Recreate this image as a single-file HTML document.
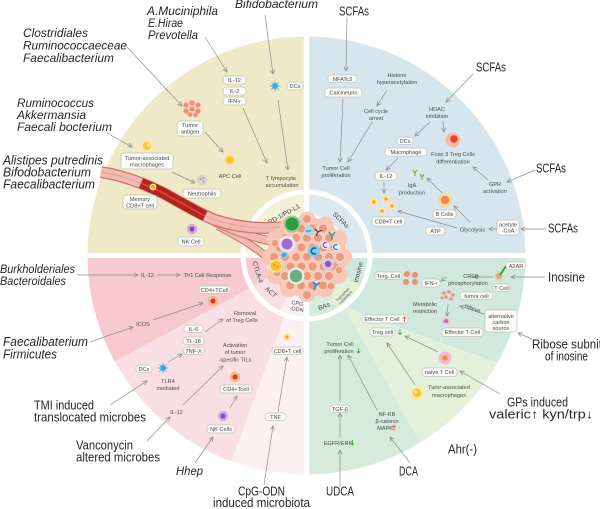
<!DOCTYPE html>
<html><head><meta charset="utf-8"><style>
html,body{margin:0;padding:0;background:#fff;}
svg{display:block;}
text{font-family:"Liberation Sans","DejaVu Sans",sans-serif;}
.big{font-size:12px;fill:#262626;}
.it{font-style:italic;}
.s{font-size:5.6px;fill:#4a4a4a;text-anchor:middle;}
.bd{font-size:6.5px;fill:#454545;text-anchor:middle;}
.b{fill:#fbfbf7;stroke:#a9a9a9;stroke-width:0.5;}
.ar{stroke:#8c8c8c;stroke-width:0.7;fill:none;marker-end:url(#m);}
.ga{stroke:#4fa544;stroke-width:0.9;fill:none;}
.ra{stroke:#e2553a;stroke-width:0.9;fill:none;}
</style></head><body>
<svg width="600" height="509" viewBox="0 0 600 509" xmlns="http://www.w3.org/2000/svg">
<defs>
<marker id="m" viewBox="0 0 6 6" refX="5.5" refY="3" markerWidth="5" markerHeight="5" markerUnits="userSpaceOnUse" orient="auto"><path d="M0.5,0.5 L5.5,3 L0.5,5.5" fill="none" stroke="#8c8c8c" stroke-width="0.9"/></marker>
<clipPath id="co"><circle cx="306.5" cy="255.5" r="219"/></clipPath>
<clipPath id="cb"><circle cx="306.5" cy="255.5" r="61"/></clipPath>
<g id="star"><polygon points="6,0 2.77,1.15 4.24,4.24 1.15,2.77 0,6 -1.15,2.77 -4.24,4.24 -2.77,1.15 -6,0 -2.77,-1.15 -4.24,-4.24 -1.15,-2.77 0,-6 1.15,-2.77 4.24,-4.24 2.77,-1.15" fill="#79c8ea"/><circle r="2.6" fill="#3ea6d8"/></g>
<g id="sun"><polygon points="7,0 3.7,1.5 5,5 1.5,3.7 0,7 -1.5,3.7 -5,5 -3.7,1.5 -7,0 -3.7,-1.5 -5,-5 -1.5,-3.7 0,-7 1.5,-3.7 5,-5 3.7,-1.5" fill="#fbe38c"/><circle r="4" fill="#f7c935"/></g>
<g id="orc"><circle r="5.2" fill="#f7b683"/><circle r="2.5" fill="#d8352a"/></g>
<g id="nkc"><circle r="5.2" fill="#cdaee0"/><circle r="2.6" fill="#8b4fb1"/></g>
<g id="ydot"><circle r="4" fill="#fbe6a6"/><circle r="1.6" fill="#f2a51e"/></g>
<g id="tcl"><circle r="9" fill="#fbd9cf"/><circle cx="-6" cy="-3" r="2.6" fill="#ee8f75"/><circle cx="0" cy="-5" r="2.6" fill="#ee8f75"/><circle cx="6" cy="-3" r="2.6" fill="#ee8f75"/><circle cx="-6" cy="3" r="2.6" fill="#ee8f75"/><circle cx="0" cy="1" r="2.6" fill="#ee8f75"/><circle cx="6" cy="3" r="2.6" fill="#ee8f75"/><circle cx="-2" cy="6.5" r="2.4" fill="#ee8f75"/><circle cx="3.5" cy="7" r="2.2" fill="#ee8f75"/></g>
</defs>

<!-- outer sectors -->
<g clip-path="url(#co)">
<rect x="0" y="0" width="306.5" height="255.5" fill="#f0e9c7"/>
<rect x="306.5" y="0" width="293.5" height="255.5" fill="#d7e6ee"/>
<polygon points="306.5,255.5 0,255.5 0,424 306,258" fill="#f6c9cf"/>
<polygon points="306,258 0,424 0,509 214,509" fill="#f9dfe3"/>
<polygon points="306,258 306.5,255.5 306.5,509 214,509" fill="#fdf0f2"/>
<polygon points="306.5,255.5 600,255.5 600,400 345,308" fill="#d0e8dd"/>
<polygon points="345,308 600,400 600,509 457,509" fill="#e4f1da"/>
<polygon points="306.5,255.5 345,308 457,509 306.5,509" fill="#d5ebdc"/>
</g>
<circle cx="306.5" cy="255.5" r="66" fill="#fff"/>
<!-- band -->
<g clip-path="url(#cb)">
<rect x="200" y="150" width="106.5" height="105.5" fill="#f5efd6"/>
<rect x="306.5" y="150" width="106.5" height="105.5" fill="#dbe8ef"/>
<polygon points="306.5,255.5 200,255.5 219.9,305.5" fill="#f6c9cf"/>
<polygon points="306.5,255.5 219.9,305.5 238.9,329.2 264.2,346.1" fill="#f9dfe3"/>
<polygon points="306.5,255.5 264.2,346.1 306.5,360" fill="#fdf0f2"/>
<polygon points="306.5,255.5 306.5,360 356.5,342.1" fill="#d5ebdc"/>
<polygon points="306.5,255.5 356.5,342.1 393.1,305.5" fill="#e4f1da"/>
<polygon points="306.5,255.5 393.1,305.5 410,255.5" fill="#d0e8dd"/>
</g>
<circle cx="306.5" cy="255.5" r="41" fill="#fff"/>
<!-- white cross -->
<rect x="303.8" y="30" width="5.4" height="460" fill="#fff"/>
<rect x="80" y="253" width="460" height="5" fill="#fff"/>

<!-- band labels -->
<g transform="translate(284,214) rotate(-29)"><text class="bd" y="2.3">PD-1/PD-L1</text></g>
<g transform="translate(341,220) rotate(44)"><text class="bd" y="2.3">SCFAs</text></g>
<g transform="translate(258,272) rotate(72)"><text class="bd" y="2.3">CTLA-4</text></g>
<g transform="translate(271,292) rotate(42)"><text class="bd" y="2.3">ACT</text></g>
<g transform="translate(297,306) rotate(8)"><text class="bd" style="font-size:5.5px" y="-1">CPG</text><text class="bd" style="font-size:5.5px" y="5">-ODN</text></g>
<g transform="translate(324,306) rotate(-19)"><text class="bd" y="2.3">BAs</text></g>
<g transform="translate(344,296) rotate(-45)"><text class="bd" style="font-size:3.6px" y="-0.8">Tryptophan</text><text class="bd" style="font-size:3.6px" y="3.4">catabolism</text></g>
<g transform="translate(358,272) rotate(-75)"><text class="bd" y="2.3">inosine</text></g>

<!-- vessel -->
<g fill="none" stroke-linecap="butt">
<path d="M218,226 C240,238 258,248 272,262" stroke="#c8736c" stroke-width="8"/>
<path d="M218,226 C240,238 258,248 272,262" stroke="#f2b9b2" stroke-width="6"/>
<path d="M215,222 C240,234 262,240 284,244" stroke="#c8736c" stroke-width="9"/>
<path d="M215,222 C240,234 262,240 284,244" stroke="#f2b9b2" stroke-width="7"/>
<path d="M101,172 C125,176 145,184 165,194 C185,205 200,214 215,220 C240,228 265,230 290,226" stroke="#c8736c" stroke-width="12"/>
<path d="M101,172 C125,176 145,184 165,194 C185,205 200,214 215,220 C240,228 265,230 290,226" stroke="#f2b9b2" stroke-width="9.5"/>
<path d="M101,172 C125,176 145,184 165,194 C185,205 200,214 215,220 C240,228 265,230 290,226" stroke="#e39b93" stroke-width="0.7"/>
<path d="M141,183 C150,187 158,190 165,194 C185,205 195,211 205,216" stroke="#b3241c" stroke-width="10.5"/>
<path d="M141,183 C150,187 158,190 165,194 C185,205 195,211 205,216" stroke="#cf4238" stroke-width="2"/>
</g>
<circle cx="153" cy="187" r="3.4" fill="#fff2c0"/><circle cx="153" cy="187" r="2.2" fill="#f3b321"/>

<!-- tumor -->
<g>
<circle cx="307" cy="257" r="40" fill="#f7c6b5"/>
<g fill="#f7c6b5">
<circle cx="343" cy="257" r="9"/><circle cx="338.2" cy="275" r="9"/><circle cx="325" cy="288.2" r="9"/><circle cx="307" cy="293" r="9"/><circle cx="289" cy="288.2" r="9"/><circle cx="275.8" cy="275" r="9"/><circle cx="271" cy="257" r="9"/><circle cx="275.8" cy="239" r="9"/><circle cx="289" cy="225.8" r="9"/><circle cx="307" cy="221" r="9"/><circle cx="325" cy="225.8" r="9"/><circle cx="338.2" cy="239" r="9"/>
</g>
<g fill="#ec9a7e" stroke="#f9d6c9" stroke-width="1">
<circle cx="307" cy="219" r="4.6"/>
<circle cx="290" cy="228.5" r="4.6"/><circle cx="301" cy="228.5" r="4.6"/><circle cx="312" cy="228.5" r="4.6"/><circle cx="323" cy="228.5" r="4.6"/>
<circle cx="285" cy="238" r="4.6"/><circle cx="296" cy="238" r="4.6"/><circle cx="307" cy="238" r="4.6"/><circle cx="318" cy="238" r="4.6"/><circle cx="329" cy="238" r="4.6"/>
<circle cx="279.5" cy="247.5" r="4.6"/><circle cx="290.5" cy="247.5" r="4.6"/><circle cx="301.5" cy="247.5" r="4.6"/><circle cx="312.5" cy="247.5" r="4.6"/><circle cx="323.5" cy="247.5" r="4.6"/><circle cx="334.5" cy="247.5" r="4.6"/>
<circle cx="274" cy="257" r="4.6"/><circle cx="285" cy="257" r="4.6"/><circle cx="296" cy="257" r="4.6"/><circle cx="307" cy="257" r="4.6"/><circle cx="318" cy="257" r="4.6"/><circle cx="329" cy="257" r="4.6"/><circle cx="340" cy="257" r="4.6"/>
<circle cx="279.5" cy="266.5" r="4.6"/><circle cx="290.5" cy="266.5" r="4.6"/><circle cx="301.5" cy="266.5" r="4.6"/><circle cx="312.5" cy="266.5" r="4.6"/><circle cx="323.5" cy="266.5" r="4.6"/><circle cx="334.5" cy="266.5" r="4.6"/>
<circle cx="285" cy="276" r="4.6"/><circle cx="296" cy="276" r="4.6"/><circle cx="307" cy="276" r="4.6"/><circle cx="318" cy="276" r="4.6"/><circle cx="329" cy="276" r="4.6"/>
<circle cx="290" cy="285.5" r="4.6"/><circle cx="301" cy="285.5" r="4.6"/><circle cx="312" cy="285.5" r="4.6"/><circle cx="323" cy="285.5" r="4.6"/>
<circle cx="307" cy="295" r="4.6"/>
<circle cx="275" cy="243" r="3.8"/><circle cx="339" cy="270" r="3.8"/><circle cx="277" cy="273" r="3.8"/><circle cx="331" cy="286" r="3.8"/>
</g>
<!-- immune cells -->
<circle cx="292" cy="224" r="8.5" fill="#8fd293"/><circle cx="292" cy="224" r="6.5" fill="#2f9e44"/>
<circle cx="287" cy="244" r="8.5" fill="#efe2f4"/><circle cx="287" cy="244" r="5.5" fill="#a06cc4"/>
<circle cx="309" cy="231" r="5" fill="#a9d8ef"/><path d="M306,231 h5" stroke="#2d6fa8" stroke-width="1"/>
<path d="M316,236 l2,-4 l-3,-3 M318,232 l4,-2" stroke="#555" stroke-width="1.5" fill="none"/>
<path d="M332,240 v-4 l-3,-4 M332,236 l3,-4" stroke="#5f8f8c" stroke-width="1.5" fill="none"/>
<circle cx="325" cy="245" r="4.2" fill="#f2e8f6"/><path d="M327,243 a2.4,2.4 0 1 0 0,4" stroke="#8f5bb0" stroke-width="1.3" fill="none"/>
<circle cx="336" cy="247" r="4.2" fill="#e6f3fb"/><path d="M337.5,245 a2.4,2.4 0 1 0 0,4" stroke="#2f78c0" stroke-width="1.3" fill="none"/>
<circle cx="314" cy="251" r="6.2" fill="#86c8ec"/><path d="M316,248.5 a3,3 0 1 0 0,5" stroke="#1c5a9a" stroke-width="1.6" fill="none"/>
<use href="#star" transform="translate(284,255) scale(0.8)"/>
<circle cx="276" cy="266" r="6.8" fill="#f8e49a"/><circle cx="276" cy="266" r="5.2" fill="#f7c22c"/><circle cx="274.5" cy="265" r="0.8" fill="#d9741c"/><circle cx="277.5" cy="267" r="0.8" fill="#d9741c"/>
<circle cx="328" cy="264" r="6" fill="#dcc7ea"/><circle cx="328" cy="264" r="3.2" fill="#8d55b5"/>
<circle cx="296" cy="276" r="8.5" fill="#e4f1e7"/><circle cx="296" cy="276" r="6.3" fill="#6fae85"/>
<path d="M314,290 l2,-5 l-3,-3 M316,285 l4,-2" stroke="#3a8ad0" stroke-width="2" fill="none"/>
</g>

<!-- ================= YELLOW quadrant ================= -->
<g class="ar">
<line x1="127" y1="47" x2="182" y2="106"/>
<line x1="205" y1="37" x2="227" y2="72"/>
<line x1="265" y1="15" x2="273" y2="74"/>
<line x1="243" y1="108" x2="267" y2="163"/>
<line x1="278" y1="100" x2="288" y2="170"/>
<line x1="205" y1="132" x2="223" y2="152"/>
<line x1="107" y1="133" x2="132" y2="147"/>
<line x1="172" y1="172" x2="195" y2="183"/>
</g>
<rect class="b" x="223" y="76" width="23" height="8" rx="3"/><text class="s" x="234.5" y="82">IL-12</text>
<rect class="b" x="223" y="87" width="23" height="8" rx="3"/><text class="s" x="234.5" y="93">IL-2</text>
<rect class="b" x="223" y="97" width="23" height="8" rx="3"/><text class="s" x="234.5" y="103">IFN-r</text>
<use href="#star" transform="translate(275,86)"/>
<rect class="b" x="287" y="82" width="16" height="8" rx="3"/><text class="s" x="295" y="88">DCs</text>
<use href="#tcl" transform="translate(192,108)"/>
<rect class="b" x="177" y="121" width="26" height="15" rx="3"/><text class="s" x="190" y="127">Tumor</text><text class="s" x="190" y="133.5">antigen</text>
<use href="#sun" transform="translate(230,160)"/>
<text class="s" x="230" y="178">APC Cell</text>
<text class="s" x="281" y="180">T lympocyte</text><text class="s" x="282" y="187">accumulation</text>
<circle cx="147" cy="146" r="6.5" fill="#fbeaa6"/><circle cx="147" cy="146" r="4" fill="#f4c73c"/><circle cx="148.5" cy="145" r="1.8" fill="#fbeaa6"/>
<rect class="b" x="121" y="153" width="52" height="16" rx="3"/><text class="s" x="147" y="160">Tumor-associated</text><text class="s" x="147" y="166.5">macrophages</text>
<circle cx="202" cy="180" r="5.5" fill="#d9d4ca"/><circle cx="200.5" cy="179" r="1" fill="#9c958a"/><circle cx="203.5" cy="181.5" r="1" fill="#9c958a"/><circle cx="203" cy="178" r="0.8" fill="#9c958a"/>
<rect class="b" x="183" y="189" width="38" height="9" rx="3"/><text class="s" x="202" y="195.5">Neutrophils</text>
<rect class="b" x="123" y="195" width="34" height="14" rx="3"/><text class="s" x="140" y="201">Memory</text><text class="s" x="140" y="207.5">CD8+T cell</text>
<use href="#nkc" transform="translate(192,229)"/>
<rect class="b" x="178" y="237" width="26" height="9" rx="3"/><text class="s" x="191" y="243.5">NK Cell</text>

<!-- ================= BLUE quadrant ================= -->
<g class="ar">
<line x1="347" y1="18" x2="346" y2="71"/>
<line x1="343" y1="99" x2="340" y2="162"/>
<line x1="387" y1="90" x2="377" y2="106"/>
<line x1="372" y1="122" x2="348" y2="162"/>
<line x1="473" y1="74" x2="446" y2="102"/>
<line x1="430" y1="122" x2="415" y2="136"/>
<line x1="443" y1="121" x2="444" y2="132"/>
<line x1="398" y1="158" x2="386" y2="170"/>
<line x1="384" y1="182" x2="384" y2="193"/>
<line x1="535" y1="170" x2="507" y2="182"/>
<line x1="488" y1="180" x2="473" y2="167"/>
<line x1="442" y1="193" x2="427" y2="178"/>
<line x1="470" y1="222" x2="454" y2="206"/>
<line x1="457" y1="228" x2="398" y2="211"/>
<line x1="497" y1="229" x2="489" y2="229"/>
<line x1="546" y1="229" x2="521" y2="229"/>
</g>
<rect class="b" x="328" y="75" width="29" height="7.5" rx="3"/><text class="s" x="342.5" y="80.8">NFATc3</text>
<rect class="b" x="325" y="88" width="37" height="9" rx="3"/><text class="s" x="343.5" y="94.5">Calcineurin</text>
<text class="s" x="397" y="77">Histone</text><text class="s" x="397" y="84">hyperacetylation</text>
<text class="s" x="376" y="113">Cell cycle</text><text class="s" x="376" y="120">arrest</text>
<text class="s" x="437" y="111">HDAC</text><text class="s" x="437" y="118">inhibition</text>
<circle cx="453" cy="140" r="7.5" fill="#f6b8a8"/><circle cx="454" cy="139" r="3.8" fill="#e0452e"/>
<text class="s" x="453" y="156">Foxp 3 Treg Cells</text><text class="s" x="453" y="163.5">differentiation</text>
<rect class="b" x="397" y="137" width="16" height="7.5" rx="3"/><text class="s" x="405" y="142.8">DCs</text>
<rect class="b" x="385" y="148" width="42" height="8" rx="3"/><text class="s" x="406" y="154">Macrophage</text>
<text class="s" x="336" y="170">Tumor Cell</text><text class="s" x="336" y="177">proliferation</text>
<rect class="b" x="375" y="172" width="22" height="8" rx="3"/><text class="s" x="386" y="178">IL-12</text>
<g stroke="#7bb04e" stroke-width="1.2" fill="none"><path d="M415,176 v-3 l-2,-3 M415,173 l2,-3"/><path d="M422,180 v-3 l-2,-3 M422,177 l2,-3"/></g>
<text class="s" x="412" y="187">IgA</text><text class="s" x="412" y="194.5">production</text>
<circle cx="445" cy="200" r="7" fill="#fbd98a"/><circle cx="445" cy="200" r="4.2" fill="#ec8a55"/>
<rect class="b" x="433" y="210" width="23" height="8.5" rx="3"/><text class="s" x="444.5" y="216.2">B Cells</text>
<text class="s" x="495" y="186">GPR</text><text class="s" x="495" y="193">activation</text>
<use href="#ydot" transform="translate(374,202)"/><use href="#ydot" transform="translate(386,199)"/><use href="#ydot" transform="translate(382,211)"/><use href="#ydot" transform="translate(392,206)"/>
<rect class="b" x="372" y="217" width="33" height="9" rx="3"/><text class="s" x="388.5" y="223.5">CD8+T cell</text>
<rect class="b" x="426" y="227" width="19" height="8" rx="3"/><text class="s" x="435.5" y="233">ATP</text>
<text class="s" x="472.5" y="231.5">Glycolysis</text>
<rect class="b" x="497" y="220" width="22" height="15" rx="3"/><text class="s" x="508" y="226.5">acetyle</text><text class="s" x="508" y="232.5">-CoA</text>

<!-- ================= GREEN quadrant ================= -->
<g class="ar">
<line x1="545" y1="277" x2="511" y2="277"/>
<line x1="493" y1="277" x2="474" y2="277"/>
<line x1="447" y1="277" x2="441" y2="281"/>
<line x1="448" y1="304" x2="447" y2="316"/>
<line x1="484" y1="314" x2="460" y2="306"/>
<line x1="532" y1="339" x2="518" y2="333"/>
<line x1="438" y1="352" x2="405" y2="336"/>
<line x1="500" y1="394" x2="460" y2="371"/>
<line x1="415" y1="385" x2="387" y2="343"/>
<line x1="340" y1="402" x2="340" y2="355"/>
<line x1="377" y1="410" x2="348" y2="355"/>
<line x1="340" y1="437" x2="340" y2="413"/>
<line x1="340" y1="487" x2="340" y2="450"/>
<line x1="410" y1="463" x2="390" y2="437"/>
</g>
<rect class="b" x="375" y="272" width="27" height="7.5" rx="3"/><text class="s" x="388.5" y="277.8">Terg. Cell</text>
<g fill="#ef8e74"><circle cx="407" cy="274" r="3"/><circle cx="415" cy="275" r="3"/><circle cx="406" cy="282" r="3"/><circle cx="415" cy="282" r="3"/></g>
<rect class="b" x="422" y="279" width="18" height="8" rx="3"/><text class="s" x="431" y="285">IFN-r</text>
<text class="s" x="471" y="278">CREB</text><text class="s" x="468" y="285">phosphorylation</text>
<circle cx="499" cy="276" r="5" fill="#e2d6b0"/><circle cx="499" cy="276" r="2.8" fill="#c9b27a"/>
<line x1="500" y1="275" x2="506" y2="266" stroke="#2f9a3a" stroke-width="1.8"/>
<rect class="b" x="506" y="262" width="20" height="7.5" rx="3"/><text class="s" x="516" y="267.8">A2AR</text>
<rect class="b" x="493" y="284" width="17" height="7.5" rx="3"/><text class="s" x="501.5" y="289.8">T Cell</text>
<g fill="#ef8e74"><circle cx="444" cy="293" r="1.8"/><circle cx="449" cy="292" r="1.8"/><circle cx="453" cy="295" r="1.8"/><circle cx="446" cy="297" r="1.8"/><circle cx="451" cy="299" r="1.8"/><circle cx="442" cy="298" r="1.5"/></g>
<rect class="b" x="460" y="292" width="33" height="7.5" rx="3"/><text class="s" x="476.5" y="297.8">tumor cell</text>
<text class="s" x="425" y="306">Metabolic</text><text class="s" x="425" y="313">restriction</text>
<circle cx="446" cy="321" r="4" fill="#ecc3df"/><circle cx="446" cy="321" r="2" fill="#b773b0"/>
<rect class="b" x="442" y="328" width="41" height="8.5" rx="3"/><text class="s" x="462.5" y="334.2">Effector T Cell</text>
<text class="s" x="472" y="310" transform="rotate(22 472 310)">relieve</text>
<rect class="b" x="485" y="310" width="32" height="22" rx="3"/><text class="s" x="501" y="318">alternative</text><text class="s" x="501" y="324">carbon</text><text class="s" x="501" y="330">source</text>
<rect class="b" x="362" y="315" width="46" height="8" rx="3"/><text class="s" x="382" y="321">Effector T Cell</text>
<path class="ra" d="M404.5,322 v-5 M402.8,318.7 l1.7,-1.7 l1.7,1.7"/>
<rect class="b" x="370" y="328" width="25" height="8" rx="3"/><text class="s" x="382.5" y="334">Treg cell</text>
<path class="ga" d="M400,329 v5.5 M398.3,332.8 l1.7,1.7 l1.7,-1.7"/>
<text class="s" x="340" y="346">Tumor Cell</text><text class="s" x="339" y="353">proliferation</text>
<path class="ga" d="M358.5,348 v5 M356.8,351.3 l1.7,1.7 l1.7,-1.7"/>
<circle cx="445" cy="358" r="6.5" fill="#f5b8c8"/><circle cx="445" cy="358" r="2.6" fill="#ee8a55"/>
<rect class="b" x="422" y="368" width="35" height="8.5" rx="3"/><text class="s" x="439.5" y="374.2">naive T Cell</text>
<circle cx="417" cy="393" r="6.5" fill="#fbe79a"/><circle cx="417" cy="393" r="4.2" fill="#f4c431"/><circle cx="415.5" cy="392" r="1.7" fill="#fbe79a"/>
<text class="s" x="449" y="389">Turor-associated</text><text class="s" x="449" y="397">macrophages</text>
<rect class="b" x="330" y="405" width="20" height="7.5" rx="3"/><text class="s" x="340" y="410.8">TGF-β</text>
<text class="s" x="387" y="416">NF-KB</text><text class="s" x="387" y="423">β-catenin</text><text class="s" x="385" y="430">MAPK</text>
<path class="ra" d="M394,430.5 v-5 M392.3,427.2 l1.7,-1.7 l1.7,1.7"/>
<text class="s" x="338" y="445">EGFR/ERK</text>
<path class="ga" d="M352.5,440 v5 M350.8,443.3 l1.7,1.7 l1.7,-1.7"/>

<!-- ================= PINK quadrant ================= -->
<g class="ar">
<line x1="77" y1="275" x2="138" y2="275"/>
<line x1="157" y1="275" x2="180" y2="275"/>
<line x1="90" y1="342" x2="133" y2="327"/>
<line x1="153" y1="320" x2="203" y2="303"/>
<line x1="205" y1="332" x2="223" y2="319"/>
<line x1="168" y1="362" x2="182" y2="354"/>
<line x1="183" y1="405" x2="223" y2="366"/>
<line x1="230" y1="408" x2="237" y2="396"/>
<line x1="110" y1="405" x2="147" y2="381"/>
<line x1="147" y1="441" x2="170" y2="417"/>
<line x1="195" y1="463" x2="213" y2="437"/>
<line x1="278" y1="412" x2="287" y2="357"/>
<line x1="264" y1="485" x2="273" y2="426"/>
</g>
<text class="s" x="147.5" y="277">IL-12</text>
<text class="s" x="207.5" y="277">Th1 Cell Response</text>
<rect class="b" x="199" y="286" width="31" height="7.5" rx="3"/><text class="s" x="214.5" y="291.8">CD4+TCell</text>
<use href="#orc" transform="translate(213,301)"/>
<text class="s" x="143" y="326">ICOS</text>
<rect class="b" x="184" y="325" width="19" height="7.5" rx="3"/><text class="s" x="193.5" y="330.8">IL-6</text>
<rect class="b" x="183" y="337" width="21" height="7.5" rx="3"/><text class="s" x="193.5" y="342.8">TL-18</text>
<rect class="b" x="183" y="347" width="21" height="7.5" rx="3"/><text class="s" x="193.5" y="352.8">TNF-X</text>
<text class="s" x="245" y="315">Removal</text><text class="s" x="242" y="322">of Treg Cells</text>
<text class="s" x="235" y="347">Activation</text><text class="s" x="235" y="354">of tumor</text><text class="s" x="235" y="361.5">-specific TILs</text>
<rect class="b" x="136" y="365" width="16" height="7.5" rx="3"/><text class="s" x="144" y="370.8">DCs</text>
<use href="#star" transform="translate(163,368)"/>
<text class="s" x="168" y="383">TLR4</text><text class="s" x="168" y="390">mediated</text>
<text class="s" x="176.5" y="414">IL-12</text>
<use href="#orc" transform="translate(235,377)"/>
<rect class="b" x="220" y="385" width="32" height="8" rx="3"/><text class="s" x="236" y="391">CD4+Tcell</text>
<use href="#nkc" transform="translate(223,416)"/>
<rect class="b" x="207" y="425" width="28" height="8" rx="3"/><text class="s" x="221" y="431">NK Cells</text>
<use href="#ydot" transform="translate(287,337)"/>
<rect class="b" x="272" y="347" width="31" height="7.5" rx="3"/><text class="s" x="287.5" y="352.8">CD8+T cell</text>
<rect class="b" x="265" y="413" width="21" height="7.5" rx="3"/><text class="s" x="275.5" y="418.8">TNF</text>

<!-- ================= big outside labels ================= -->
<g class="big it">
<text x="147" y="15" textLength="71" lengthAdjust="spacingAndGlyphs">A.Muciniphila</text>
<text x="148" y="27" textLength="35" lengthAdjust="spacingAndGlyphs">E.Hirae</text>
<text x="148" y="39" textLength="50" lengthAdjust="spacingAndGlyphs">Prevotella</text>
<text x="235" y="8" textLength="83" lengthAdjust="spacingAndGlyphs">Bifidobacterium</text>
<text x="23" y="37" textLength="65" lengthAdjust="spacingAndGlyphs">Clostridiales</text>
<text x="23" y="49.5" textLength="104" lengthAdjust="spacingAndGlyphs">Ruminococcaeceae</text>
<text x="23" y="62" textLength="91" lengthAdjust="spacingAndGlyphs">Faecalibacterium</text>
<text x="17" y="107" textLength="77" lengthAdjust="spacingAndGlyphs">Ruminococcus</text>
<text x="17" y="119" textLength="69" lengthAdjust="spacingAndGlyphs">Akkermansia</text>
<text x="17" y="131" textLength="95" lengthAdjust="spacingAndGlyphs">Faecali bocterium</text>
<text x="3" y="164.5" textLength="100" lengthAdjust="spacingAndGlyphs" style="font-size:12.5px">Alistipes putredinis</text>
<text x="3" y="176.5" textLength="88" lengthAdjust="spacingAndGlyphs" style="font-size:12.5px">Bifodobacterium</text>
<text x="3" y="188.5" textLength="92" lengthAdjust="spacingAndGlyphs" style="font-size:12.5px">Faecalibacterium</text>
<text x="0" y="273" textLength="75" lengthAdjust="spacingAndGlyphs" style="font-size:11.5px">Burkholderiales</text>
<text x="0" y="285" textLength="66" lengthAdjust="spacingAndGlyphs" style="font-size:11.5px">Bacteroidales</text>
<text x="3" y="346" textLength="85" lengthAdjust="spacingAndGlyphs" style="font-size:12.5px">Faecalibaterium</text>
<text x="3" y="358.5" textLength="54" lengthAdjust="spacingAndGlyphs" style="font-size:12.5px">Firmicutes</text>
<text x="176" y="475" textLength="27" lengthAdjust="spacingAndGlyphs">Hhep</text>
</g>
<g class="big">
<text x="34" y="409.5" textLength="60" lengthAdjust="spacingAndGlyphs" style="font-size:12.5px">TMI induced</text>
<text x="34" y="421.5" textLength="112" lengthAdjust="spacingAndGlyphs" style="font-size:12.5px">translocated microbes</text>
<text x="76" y="449.5" textLength="57" lengthAdjust="spacingAndGlyphs" style="font-size:12.5px">Vanconycin</text>
<text x="76" y="461.5" textLength="84" lengthAdjust="spacingAndGlyphs" style="font-size:12.5px">altered microbes</text>
<text x="238" y="495.5" textLength="47" lengthAdjust="spacingAndGlyphs" style="font-size:12.5px">CpG-ODN</text>
<text x="213" y="507" textLength="97" lengthAdjust="spacingAndGlyphs" style="font-size:12.5px">induced microbiota</text>
<text x="326" y="495.5" textLength="28" lengthAdjust="spacingAndGlyphs" style="font-size:12.5px">UDCA</text>
<text x="399" y="475.5" textLength="19" lengthAdjust="spacingAndGlyphs" style="font-size:12.5px">DCA</text>
<text x="448" y="453.5" textLength="29" lengthAdjust="spacingAndGlyphs" style="font-size:12.5px">Ahr(-)</text>
<text x="507" y="406.5" textLength="61" lengthAdjust="spacingAndGlyphs" style="font-size:12.5px">GPs induced</text>
<text x="489" y="418.5" textLength="104" lengthAdjust="spacingAndGlyphs" style="font-size:12.5px">valeric↑  kyn/trp↓</text>
<text x="532" y="348.5" textLength="70" lengthAdjust="spacingAndGlyphs" style="font-size:12.5px">Ribose subnit</text>
<text x="545" y="360.5" textLength="43" lengthAdjust="spacingAndGlyphs" style="font-size:12.5px">of inosine</text>
<text x="548" y="281.5" textLength="37" lengthAdjust="spacingAndGlyphs" style="font-size:12.5px">Inosine</text>
<text x="339" y="15.5" textLength="30" lengthAdjust="spacingAndGlyphs" style="font-size:12.5px">SCFAs</text>
<text x="476" y="71.5" textLength="30" lengthAdjust="spacingAndGlyphs" style="font-size:12.5px">SCFAs</text>
<text x="536" y="172.5" textLength="30" lengthAdjust="spacingAndGlyphs" style="font-size:12.5px">SCFAs</text>
<text x="548" y="232.5" textLength="30" lengthAdjust="spacingAndGlyphs" style="font-size:12.5px">SCFAs</text>
</g>
</svg>
</body></html>
